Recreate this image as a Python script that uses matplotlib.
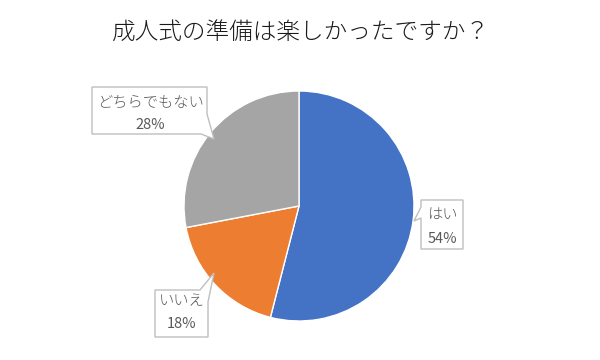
import matplotlib.pyplot as plt
from matplotlib.patches import Polygon

plt.rcParams['font.family'] = ['Noto Sans CJK JP', 'DejaVu Sans']

title = '成人式の準備は楽しかったですか？'
labels = ['はい', 'いいえ', 'どちらでもない']
values = [54, 18, 28]
colors = ['#4472C4', '#ED7D31', '#A5A5A5']

W, H = 600, 360
fig = plt.figure(figsize=(6, 3.6), dpi=100)
ax = fig.add_axes([0, 0, 1, 1])


def Y(y):
    # pixel row (from top) -> data y
    return H - y


ax.pie(values, colors=colors, startangle=90, counterclock=False,
       center=(299, Y(206)), radius=115, frame=True,
       wedgeprops=dict(edgecolor='white', linewidth=1))
ax.set_xlim(0, W)
ax.set_ylim(0, H)
ax.set_aspect('equal')
ax.axis('off')

ax.text(301, Y(33), title, ha='center', va='center', fontsize=17,
        fontweight='light', color='#1a1a1a')

# callout boxes: outline points in pixel coords (x, y from top)
callouts = {
    'はい': [(421, 200), (463, 200), (463, 249), (421, 249), (421, 218),
            (414, 221), (421, 207)],
    'いいえ': [(155, 290), (200, 290), (214, 273), (208, 302), (208, 337),
             (155, 337)],
    'どちらでもない': [(92, 87), (207, 87), (207, 114), (214, 139), (201, 134),
                 (92, 134)],
}
text_pos = {
    'はい': (442, 215, 239),
    'いいえ': (182, 301, 324),
    'どちらでもない': (150, 103, 125),
}

for lab, val in zip(labels, values):
    pts = [(x, Y(y)) for x, y in callouts[lab]]
    ax.add_patch(Polygon(pts, closed=True, facecolor='white', edgecolor='#BFBFBF',
                         linewidth=1, zorder=5))
    x, y1, y2 = text_pos[lab]
    ax.text(x, Y(y1), lab, ha='center', va='center', fontsize=11,
            fontweight='light', color='#595959', zorder=6)
    ax.text(x, Y(y2), f'{val}%', ha='center', va='center', fontsize=10.5,
            color='#595959', zorder=6)

fig.savefig('out.png', dpi=100, facecolor='white')
